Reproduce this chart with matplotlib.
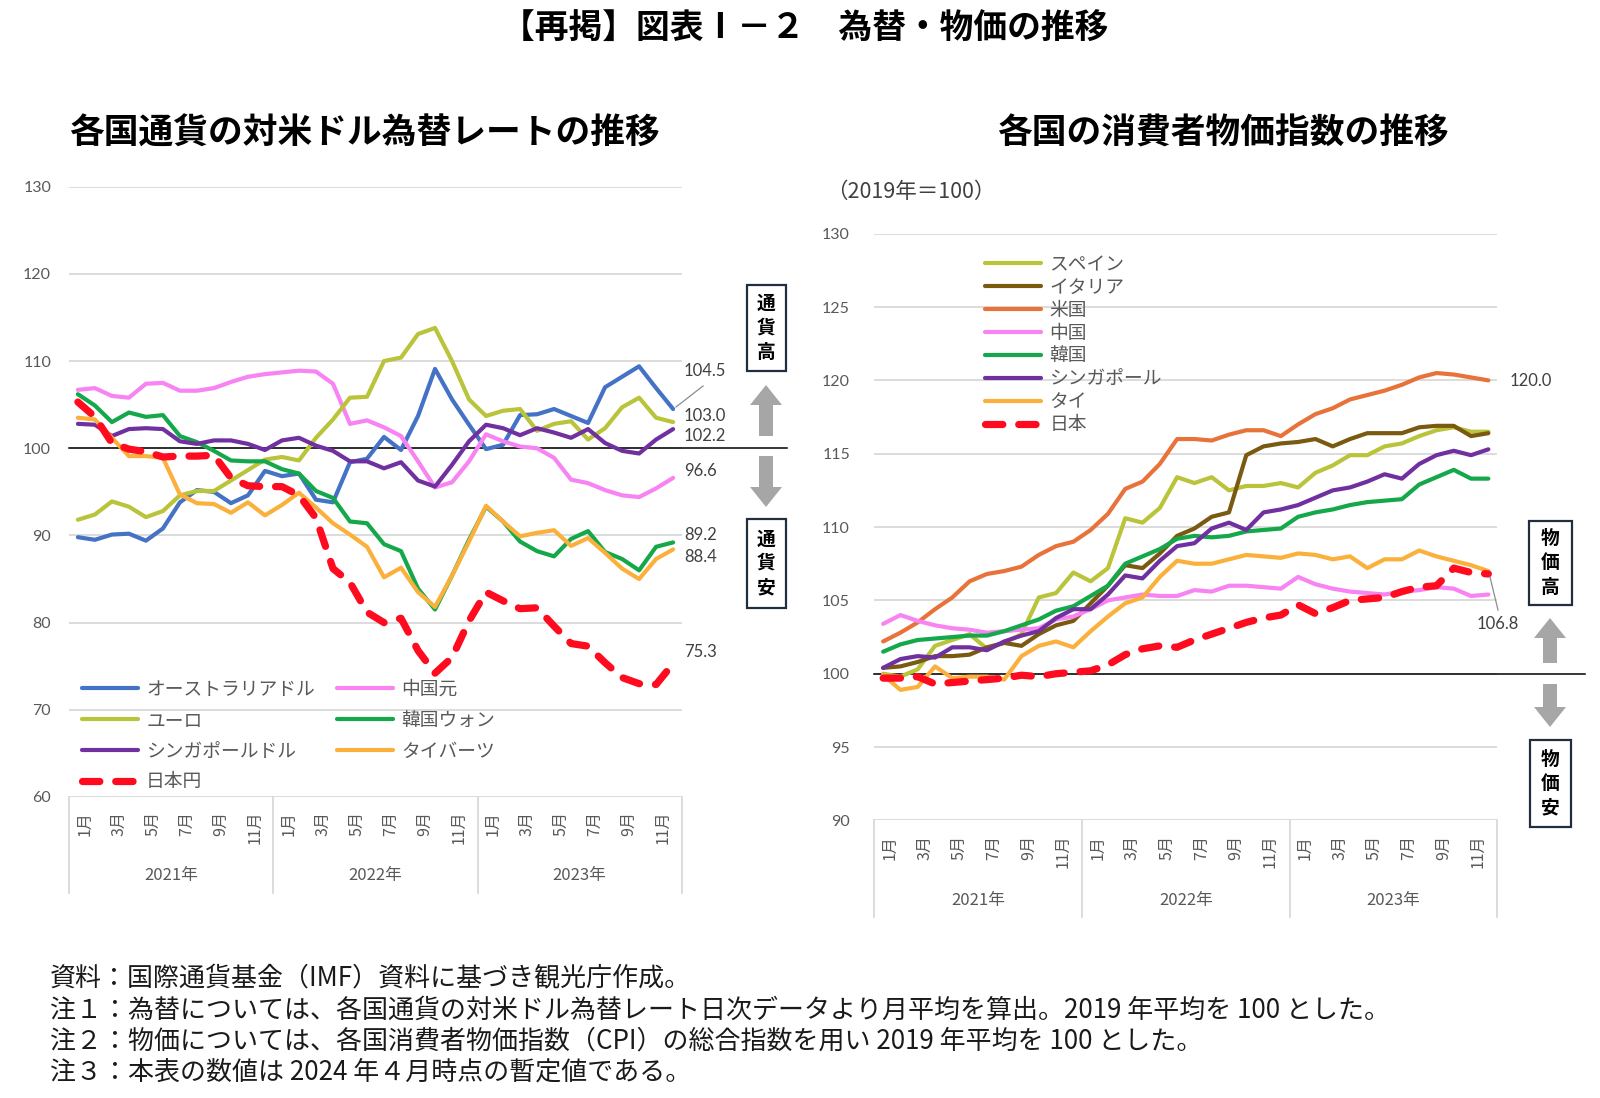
import matplotlib
matplotlib.use("Agg")
import matplotlib.pyplot as plt
import matplotlib.transforms as mtransforms
from matplotlib.patches import Rectangle, Polygon
from matplotlib.lines import Line2D
import numpy as np

plt.rcParams['font.family'] = ['Noto Sans CJK JP', 'DejaVu Sans']

# ---------------- data ----------------
months = ["1月", "2月", "3月", "4月", "5月", "6月", "7月", "8月", "9月", "10月", "11月", "12月"]
years = ["2021年", "2022年", "2023年"]

# exchange rates vs USD (2019 avg = 100)
fx_names = ["オーストラリアドル", "中国元", "ユーロ", "韓国ウォン", "シンガポールドル", "タイバーツ", "日本円"]
aud = [89.8, 89.5, 90.1, 90.2, 89.4, 90.8, 93.8, 95.2, 95.0, 93.7, 94.6, 97.4,
       96.8, 97.1, 94.1, 93.8, 98.4, 98.8, 101.3, 99.8, 103.7, 109.1, 105.6, 102.7,
       99.9, 100.4, 103.8, 103.9, 104.5, 103.7, 102.9, 107.0, 108.2, 109.4, 106.9, 104.5]
cny = [106.7, 106.9, 106.0, 105.8, 107.4, 107.5, 106.6, 106.6, 106.9, 107.6, 108.2, 108.5,
       108.7, 108.9, 108.8, 107.4, 102.8, 103.2, 102.4, 101.4, 98.5, 95.5, 96.1, 98.5,
       101.6, 100.8, 100.2, 100.0, 98.9, 96.4, 96.0, 95.2, 94.6, 94.4, 95.4, 96.6]
eur = [91.8, 92.4, 93.9, 93.3, 92.1, 92.8, 94.6, 95.1, 95.1, 96.3, 97.5, 98.7,
       99.0, 98.6, 101.2, 103.3, 105.8, 105.9, 110.0, 110.4, 113.1, 113.8, 110.0, 105.6,
       103.7, 104.3, 104.5, 102.0, 102.8, 103.1, 101.0, 102.3, 104.7, 105.8, 103.5, 103.0]
krw = [106.2, 104.9, 103.0, 104.1, 103.6, 103.8, 101.4, 100.7, 99.7, 98.6, 98.5, 98.5,
       97.6, 97.1, 95.1, 94.3, 91.6, 91.4, 89.0, 88.2, 83.9, 81.5, 85.4, 89.5,
       93.3, 91.6, 89.3, 88.2, 87.6, 89.6, 90.5, 88.1, 87.3, 86.0, 88.7, 89.2]
sgd = [102.8, 102.7, 101.4, 102.2, 102.3, 102.2, 100.8, 100.5, 100.9, 100.9, 100.5, 99.8,
       100.9, 101.2, 100.3, 99.7, 98.5, 98.5, 97.7, 98.4, 96.3, 95.6, 98.1, 100.8,
       102.7, 102.3, 101.5, 102.3, 101.8, 101.2, 102.2, 100.6, 99.7, 99.4, 101.0, 102.2]
thb = [103.5, 103.3, 101.2, 99.1, 99.1, 98.9, 94.7, 93.7, 93.6, 92.6, 93.8, 92.3,
       93.5, 94.9, 93.2, 91.4, 90.1, 88.7, 85.2, 86.3, 83.5, 81.8, 85.4, 89.3,
       93.4, 91.6, 89.9, 90.3, 90.6, 88.8, 89.7, 88.0, 86.2, 85.0, 87.3, 88.4]
jpy = [105.3, 103.6, 100.6, 99.9, 99.6, 99.0, 99.1, 99.1, 99.2, 96.6, 95.7, 95.6,
       95.6, 94.6, 92.0, 86.2, 84.6, 81.2, 80.0, 80.5, 76.8, 74.2, 76.0, 80.2,
       83.5, 82.5, 81.6, 81.7, 79.6, 77.6, 77.3, 75.4, 73.7, 73.0, 72.9, 75.3]

# consumer price index (2019 = 100)
cpi_names = ["スペイン", "イタリア", "米国", "中国", "韓国", "シンガポール", "タイ", "日本"]
spain = [100.0, 99.8, 100.3, 101.9, 102.3, 102.7, 101.7, 102.1, 102.7, 105.2, 105.5, 106.9,
         106.3, 107.2, 110.6, 110.3, 111.3, 113.4, 113.0, 113.4, 112.5, 112.8, 112.8, 113.0,
         112.7, 113.7, 114.2, 114.9, 114.9, 115.5, 115.7, 116.2, 116.6, 116.8, 116.5, 116.5]
italy = [100.4, 100.5, 100.8, 101.2, 101.2, 101.3, 101.8, 102.1, 101.9, 102.7, 103.3, 103.6,
         104.8, 106.0, 107.4, 107.2, 108.2, 109.4, 109.9, 110.7, 111.0, 114.9, 115.5, 115.7,
         115.8, 116.0, 115.5, 116.0, 116.4, 116.4, 116.4, 116.8, 116.9, 116.9, 116.2, 116.4]
usa = [102.2, 102.8, 103.5, 104.4, 105.2, 106.3, 106.8, 107.0, 107.3, 108.1, 108.7, 109.0,
       109.8, 110.9, 112.6, 113.1, 114.3, 116.0, 116.0, 115.9, 116.3, 116.6, 116.6, 116.2,
       117.0, 117.7, 118.1, 118.7, 119.0, 119.3, 119.7, 120.2, 120.5, 120.4, 120.2, 120.0]
china = [103.4, 104.0, 103.6, 103.3, 103.1, 103.0, 102.8, 102.9, 103.0, 103.1, 103.7, 103.9,
         104.4, 105.0, 105.2, 105.4, 105.3, 105.3, 105.7, 105.6, 106.0, 106.0, 105.9, 105.8,
         106.6, 106.1, 105.8, 105.6, 105.5, 105.4, 105.6, 105.7, 105.9, 105.8, 105.3, 105.4]
korea = [101.5, 102.0, 102.3, 102.4, 102.5, 102.6, 102.6, 102.9, 103.3, 103.7, 104.3, 104.6,
         105.3, 106.0, 107.5, 108.0, 108.5, 109.2, 109.4, 109.3, 109.4, 109.7, 109.8, 109.9,
         110.7, 111.0, 111.2, 111.5, 111.7, 111.8, 111.9, 112.9, 113.4, 113.9, 113.3, 113.3]
singapore = [100.4, 101.0, 101.2, 101.1, 101.8, 101.8, 101.6, 102.2, 102.6, 102.9, 103.8, 104.4,
             104.4, 105.4, 106.7, 106.5, 107.7, 108.7, 108.9, 109.9, 110.3, 109.8, 111.0, 111.2,
             111.5, 112.0, 112.5, 112.7, 113.1, 113.6, 113.3, 114.3, 114.9, 115.2, 114.9, 115.3]
thai = [99.9, 98.9, 99.1, 100.5, 99.7, 99.8, 99.8, 99.6, 101.2, 101.9, 102.2, 101.8,
        102.9, 103.9, 104.8, 105.2, 106.6, 107.7, 107.5, 107.5, 107.8, 108.1, 108.0, 107.9,
        108.2, 108.1, 107.8, 108.0, 107.2, 107.8, 107.8, 108.4, 108.0, 107.7, 107.4, 107.0]
japan = [99.7, 99.7, 99.8, 99.3, 99.4, 99.5, 99.6, 99.7, 99.9, 99.8, 100.0, 100.1,
         100.2, 100.6, 101.3, 101.7, 101.9, 101.8, 102.3, 102.7, 103.1, 103.5, 103.8, 104.0,
         104.7, 104.1, 104.5, 105.0, 105.1, 105.2, 105.6, 105.9, 106.0, 107.2, 106.9, 106.8]

left_ticks = [60, 70, 80, 90, 100, 110, 120, 130]
right_ticks = [90, 95, 100, 105, 110, 115, 120, 125, 130]

# ---------------- style ----------------
C_AUD, C_CNY, C_EUR, C_KRW = "#4472C4", "#F883F2", "#B9C43B", "#14A84A"
C_SGD, C_THB, C_JPY = "#7030A0", "#FBB03B", "#FF0A1E"
C_US, C_IT = "#E8733A", "#7A5A10"
GRID = "#D9D9D9"
TXT = "#595959"
LW = 3.0
DLW = 5.2
DASH = (0, (2.4, 2.2))

W, H = 1600, 1098
fig = plt.figure(figsize=(16, 10.98), dpi=100)


def fxp(px):
    return px / W


def fyp(py):
    return 1 - py / H


def make_axes(left, top, right, bottom):
    return fig.add_axes([fxp(left), fyp(bottom), (right - left) / W, (bottom - top) / H])


n = 36
x = np.arange(n)


def style_axes(ax, ticks, pad_pt, base_xmax):
    ax.set_xlim(-0.5, n - 0.5)
    ax.set_ylim(ticks[0], ticks[-1])
    ax.set_yticks(ticks)
    ax.set_yticklabels([str(t) for t in ticks], fontfamily=['Lato', 'DejaVu Sans'],
                       fontsize=11.5, color=TXT)
    ax.tick_params(axis='y', length=0, pad=pad_pt)
    ax.set_xticks([])
    for s in ax.spines.values():
        s.set_visible(False)
    ax.grid(axis='y', color=GRID, lw=1.3, zorder=0)
    ax.set_axisbelow(True)
    ax.axhline(100, xmin=0, xmax=base_xmax, color='black', lw=1.1, zorder=1.5, clip_on=False)


def category_axis(ax, ax_h_px, month_top, year_y, sep_bottom):
    trans = mtransforms.blended_transform_factory(ax.transData, ax.transAxes)
    for i in range(n):
        if i % 2 == 0:
            ax.text(i + 0.4, -month_top / ax_h_px, months[i % 12], rotation=90,
                    ha='center', va='top', fontsize=11.5, color=TXT, transform=trans)
    for j, yl in enumerate(years):
        ax.text(12 * j + 5.5, -year_y / ax_h_px, yl, ha='center', va='center',
                fontsize=12, color=TXT, transform=trans)
    for b in [-0.5, 11.5, 23.5, 35.5]:
        ax.add_line(Line2D([b, b], [0, -sep_bottom / ax_h_px], color=GRID, lw=1.3,
                           transform=trans, clip_on=False))


# ---------------- left chart ----------------
axL = make_axes(69.4, 186.7, 681.6, 797)
style_axes(axL, left_ticks, 13.2, (787 - 69.4) / (681.6 - 69.4))
fx_series = [aud, cny, eur, krw, sgd, thb, jpy]
fx_colors = [C_AUD, C_CNY, C_EUR, C_KRW, C_SGD, C_THB, C_JPY]
hL = []
for name, vals, col in zip(fx_names, fx_series, fx_colors):
    if name == "日本円":
        ln, = axL.plot(x, vals, color=col, lw=DLW, ls=DASH, dash_capstyle='round',
                       solid_joinstyle='round', label=name, zorder=3)
    else:
        ln, = axL.plot(x, vals, color=col, lw=LW, solid_joinstyle='round',
                       solid_capstyle='round', label=name, zorder=2)
    hL.append(ln)
category_axis(axL, 797 - 186.7, 14, 78.5, 96)

order = [0, 2, 4, 6, 1, 3, 5]
axL.legend([hL[i] for i in order], [fx_names[i] for i in order], ncol=2,
           loc='upper left', bbox_to_anchor=(fxp(81.6), fyp(679)),
           bbox_transform=fig.transFigure, frameon=False, fontsize=13.5,
           labelcolor=TXT, handlelength=3.0, handletextpad=0.44, columnspacing=1.17,
           labelspacing=0.52, borderpad=0, borderaxespad=0)

# end-value labels (left)
numfont = ['Lato', 'DejaVu Sans']
left_lbls = [(aud[-1], 371), (eur[-1], 416), (sgd[-1], 436), (cny[-1], 471),
             (krw[-1], 535), (thb[-1], 557), (jpy[-1], 652)]
for v, yy in left_lbls:
    fig.text(fxp(684), fyp(yy), f"{v:.1f}", ha='left', va='center', fontsize=12,
             color='#404040', fontfamily=numfont)
fig.add_artist(Line2D([fxp(676), fxp(703)], [fyp(407), fyp(386)], color='#8C8C8C', lw=0.9))

# ---------------- right chart ----------------
axR = make_axes(874.5, 233.7, 1497, 820.4)
style_axes(axR, right_ticks, 17.6, (1585 - 874.5) / (1497 - 874.5))
cpi_series = [spain, italy, usa, china, korea, singapore, thai, japan]
cpi_colors = [C_EUR, C_IT, C_US, C_CNY, C_KRW, C_SGD, C_THB, C_JPY]
hR = []
for name, vals, col in zip(cpi_names, cpi_series, cpi_colors):
    if name == "日本":
        ln, = axR.plot(x, vals, color=col, lw=DLW, ls=DASH, dash_capstyle='round',
                       label=name, zorder=3)
    else:
        ln, = axR.plot(x, vals, color=col, lw=LW, solid_joinstyle='round',
                       solid_capstyle='round', label=name, zorder=2)
    hR.append(ln)
category_axis(axR, 820.4 - 233.7, 14.6, 79.6, 97)

axR.legend(hR, cpi_names, ncol=1, loc='upper left',
           bbox_to_anchor=(fxp(984.7), fyp(254)), bbox_transform=fig.transFigure,
           frameon=False, fontsize=13.5, labelcolor=TXT, handlelength=3.0,
           handletextpad=0.44, labelspacing=0.1, borderpad=0, borderaxespad=0)

fig.text(fxp(1510), fyp(381), f"{usa[-1]:.1f}", ha='left', va='center', fontsize=12,
         color='#404040', fontfamily=numfont)
fig.text(fxp(1498), fyp(624), f"{japan[-1]:.1f}", ha='center', va='center', fontsize=12,
         color='#404040', fontfamily=numfont)
fig.add_artist(Line2D([fxp(1490), fxp(1498)], [fyp(577), fyp(610)], color='#8C8C8C', lw=0.9))

fig.text(fxp(826), fyp(192), "（2019年＝100）", ha='left', va='center', fontsize=15.5,
         color='#404040')

# ---------------- titles ----------------
fig.text(fxp(805), fyp(28.5), "【再掲】図表Ⅰ－２　為替・物価の推移", ha='center', va='center',
         fontsize=24.3, fontweight='bold', color='black')
fig.text(fxp(364), fyp(133.5), "各国通貨の対米ドル為替レートの推移", ha='center', va='center',
         fontsize=25, fontweight='bold', color='black')
fig.text(fxp(1223), fyp(133.5), "各国の消費者物価指数の推移", ha='center', va='center',
         fontsize=25, fontweight='bold', color='black')

# ---------------- arrows and boxes ----------------
ARROW = "#A6A6A6"


def arrow(cx, ytip, yend, hw=16, hh=20, sw=7):
    d = 1 if yend > ytip else -1
    pts = [(cx, ytip), (cx + hw, ytip + d * hh), (cx + sw, ytip + d * hh), (cx + sw, yend),
           (cx - sw, yend), (cx - sw, ytip + d * hh), (cx - hw, ytip + d * hh)]
    fig.add_artist(Polygon([(fxp(a), fyp(b)) for a, b in pts], closed=True,
                           facecolor=ARROW, edgecolor='none', transform=fig.transFigure))


def box(x0, y0, x1, y1, label):
    fig.add_artist(Rectangle((fxp(x0), fyp(y1)), (x1 - x0) / W, (y1 - y0) / H,
                             facecolor='white', edgecolor='#1F2F3F', lw=1.6,
                             transform=fig.transFigure))
    cy = (y0 + y1) / 2
    cx = (x0 + x1) / 2
    for k, ch in enumerate(label):
        fig.text(fxp(cx), fyp(cy + (k - 1) * 24.5), ch, ha='center', va='center',
                 fontsize=13.5, fontweight='bold', color='black')


box(747, 285, 786, 371, "通貨高")
arrow(766, 385, 436)
arrow(766, 507, 456)
box(747, 519, 786, 608, "通貨安")

box(1529, 521, 1572, 605, "物価高")
arrow(1550, 618, 663)
arrow(1550, 727, 684)
box(1530, 740, 1571, 827, "物価安")

# ---------------- footnotes ----------------
notes = [
    "資料：国際通貨基金（IMF）資料に基づき観光庁作成。",
    "注１：為替については、各国通貨の対米ドル為替レート日次データより月平均を算出。2019 年平均を 100 とした。",
    "注２：物価については、各国消費者物価指数（CPI）の総合指数を用い 2019 年平均を 100 とした。",
    "注３：本表の数値は 2024 年４月時点の暫定値である。",
]
for k, t in enumerate(notes):
    fig.text(fxp(50), fyp(979 + k * 31), t, ha='left', va='center', fontsize=18.7,
             color='#1A1A1A')

fig.savefig("out.png", dpi=100)
